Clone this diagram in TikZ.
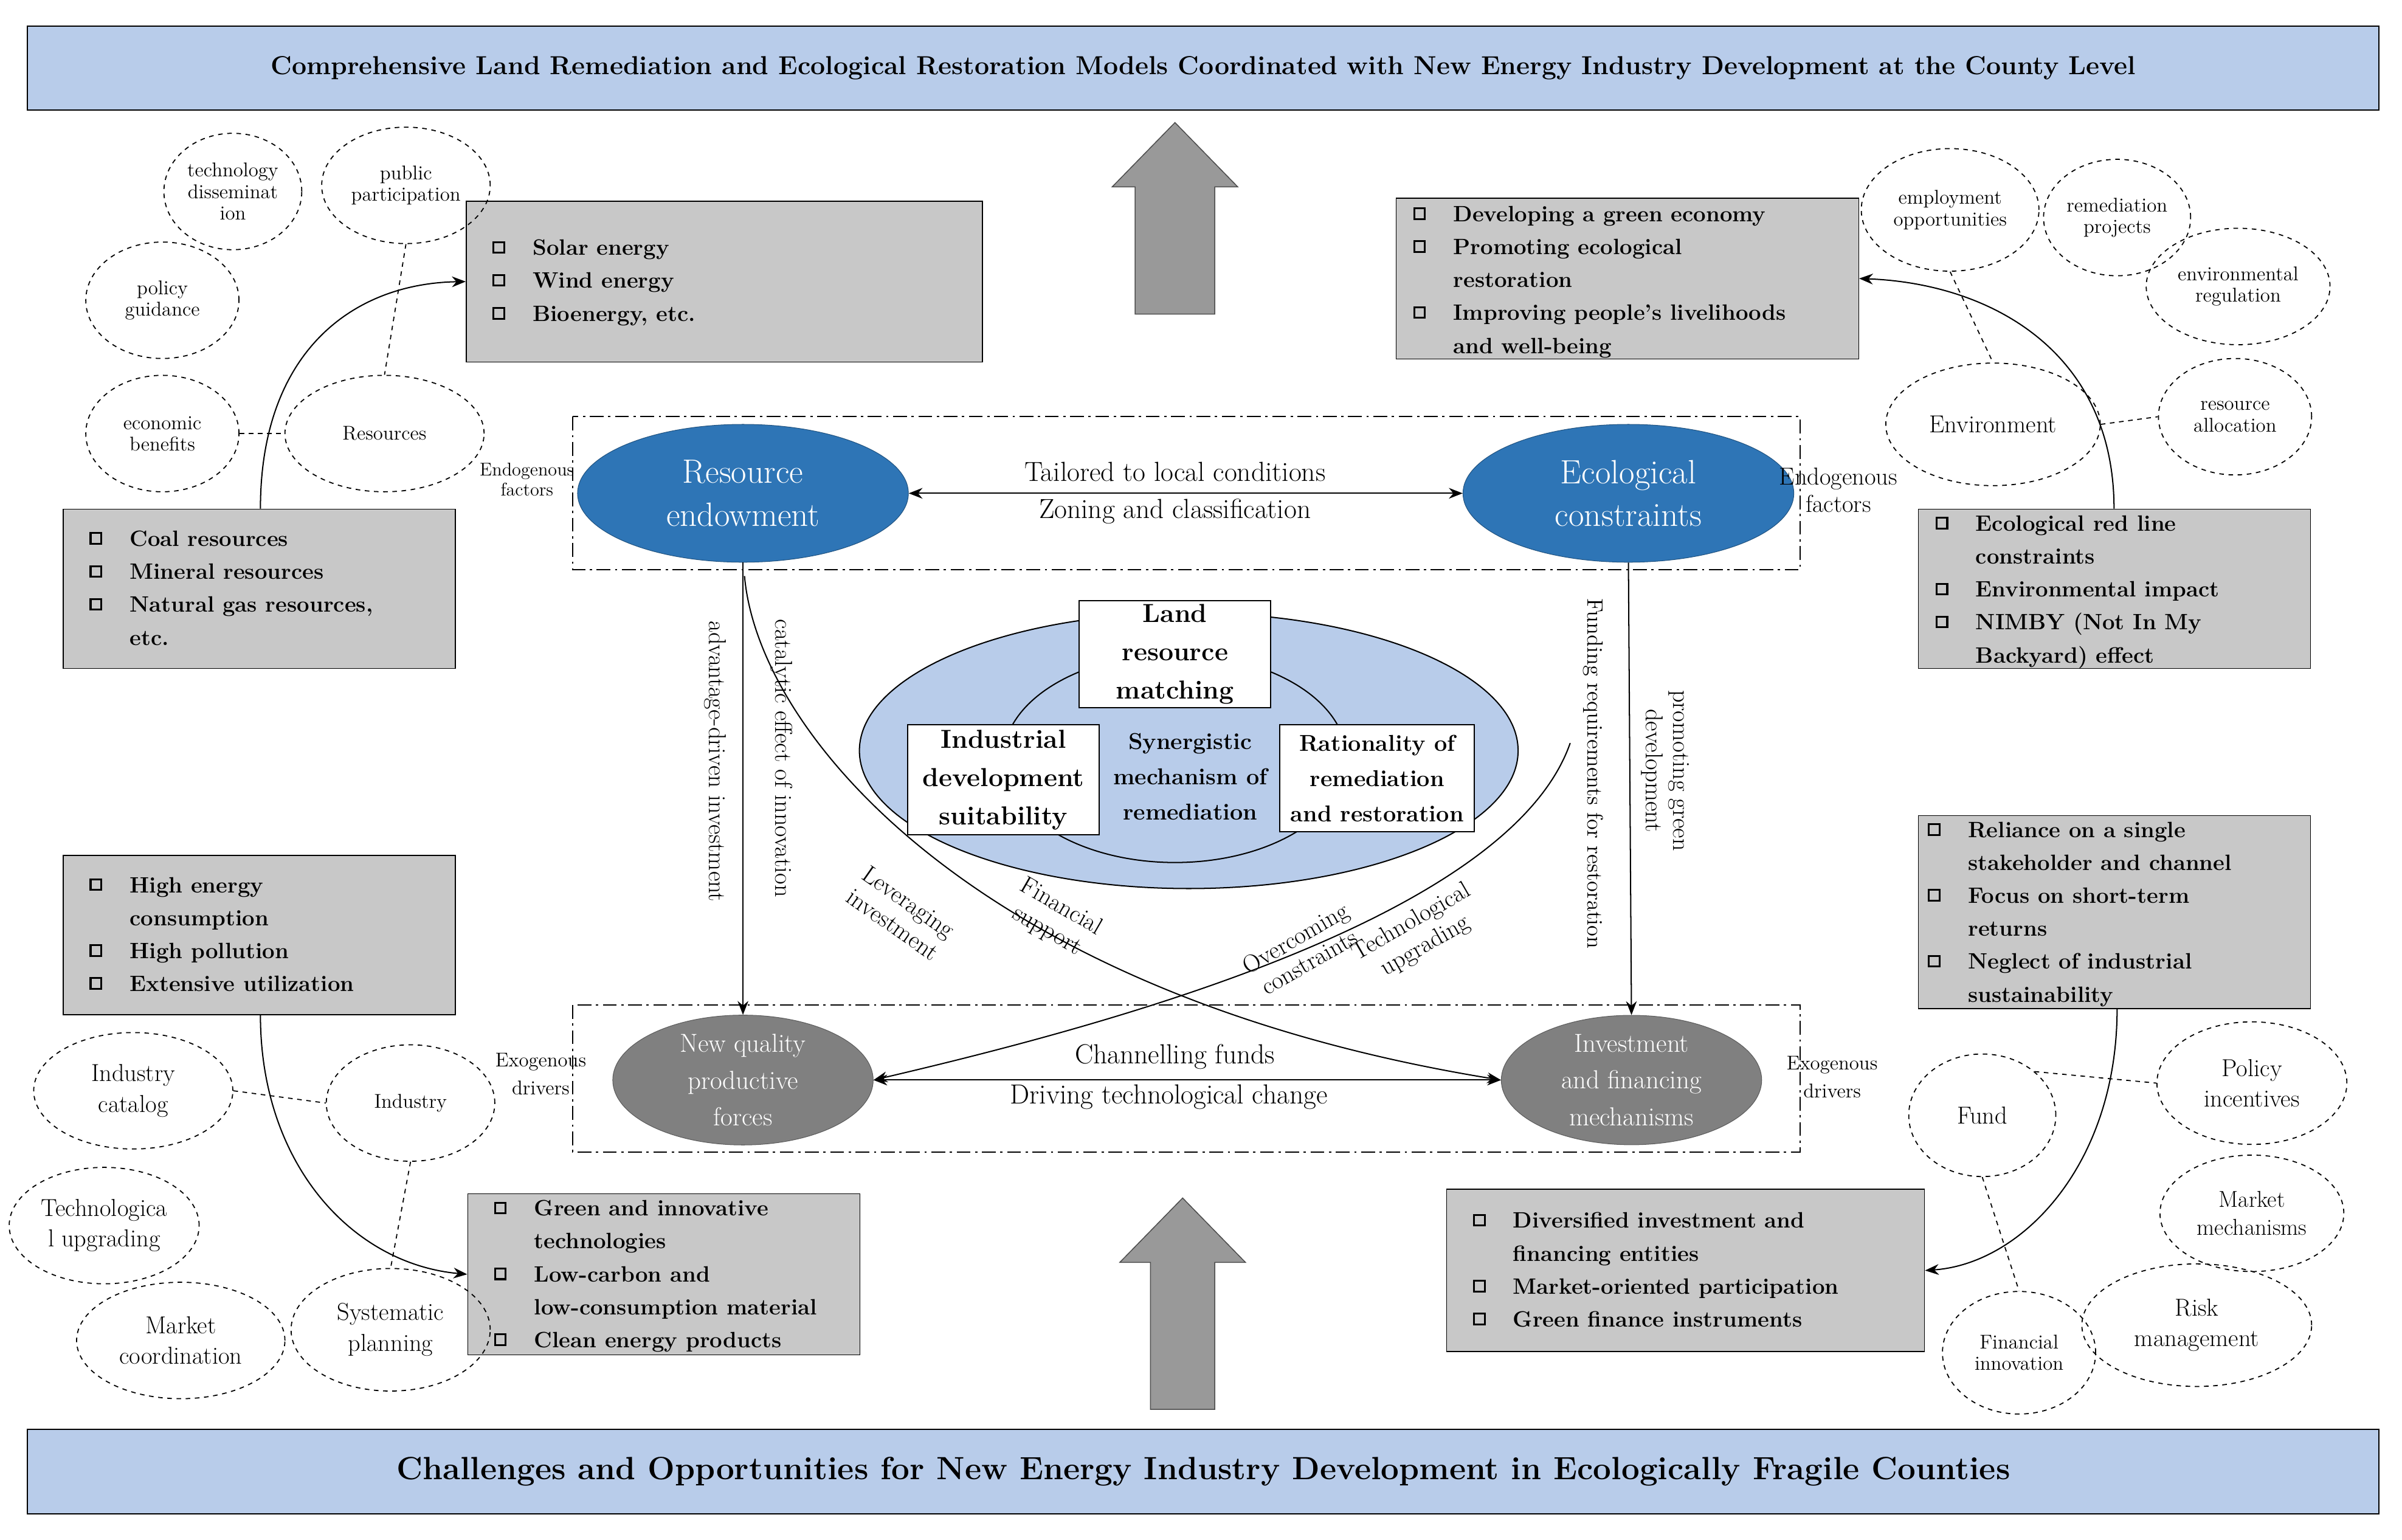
\documentclass[tikz,border=0pt]{standalone}
\usepackage{array}
\usetikzlibrary{calc,arrows.meta,shapes.geometric}
\definecolor{lb}{RGB}{184,204,234}
\definecolor{db}{RGB}{46,117,182}
\definecolor{gy}{RGB}{128,128,128}
\definecolor{bx}{RGB}{200,200,200}
\newcommand{\cbx}{\raisebox{1pt}{\tikz\draw[line width=1.2pt] (0,0) rectangle (7pt,7pt);}}
\tikzset{
 banner/.style={draw,fill=lb,line width=0.8pt,font=\bfseries},
 gbox/.style={draw,fill=bx,line width=0.6pt,anchor=north west,inner sep=0pt},
 dc/.style={draw,dashed,ellipse,line width=0.7pt,align=center,font=\fontsize{13}{14}\selectfont,inner sep=0pt},
 dl/.style={dashed,line width=0.7pt},
 big/.style={ellipse,align=center,text=white,font=\fontsize{22}{28}\selectfont,inner sep=0pt},
 arr/.style={-{Stealth[length=9pt,width=7pt]},line width=0.8pt},
 darr/.style={{Stealth[length=9pt,width=7pt]}-{Stealth[length=9pt,width=7pt]},line width=0.8pt},
 sm/.style={font=\fontsize{13}{15}\selectfont,align=center},
 mid/.style={font=\fontsize{18}{22}\selectfont,align=center},
 wb/.style={draw,fill=white,line width=0.8pt,align=center,font=\bfseries\fontsize{17}{25}\selectfont,inner sep=2pt},
 rl/.style={font=\fontsize{16}{18}\selectfont,align=center},
 ddf/.style={dash pattern=on 9pt off 3pt on 1.5pt off 3pt,line width=0.8pt},
 bigarrow/.style={fill=gy!80,draw=gy!60!black,line width=0.6pt}
}
\newcommand{\items}[2]{\fontsize{14.5}{21.5}\selectfont\bfseries\begin{tabular}{@{\hspace{14pt}}l@{\hspace{18pt}}>{\raggedright\arraybackslash}p{#1}@{}}#2\end{tabular}}
\begin{document}
\begin{tikzpicture}[x=1pt,y=-1pt]
\useasboundingbox (0,0) rectangle (1568,1005);
% banners
\node[banner,minimum width=1535,minimum height=55,font=\bfseries\fontsize{17}{20}\selectfont] (top) at (785.5,44.5) {Comprehensive Land Remediation and Ecological Restoration Models Coordinated with New Energy Industry Development at the County Level};
\node[banner,minimum width=1535,minimum height=55,font=\bfseries\fontsize{21}{24}\selectfont] (bot) at (785.5,960.5) {Challenges and Opportunities for New Energy Industry Development in Ecologically Fragile Counties};
% big arrows
\draw[bigarrow] (741,205) -- (741,122) -- (726,122) -- (767,80) -- (808,122) -- (793,122) -- (793,205) -- cycle;
\draw[bigarrow] (751,920) -- (751,824) -- (731,824) -- (772,782) -- (813,824) -- (793,824) -- (793,920) -- cycle;
% dash-dot frames
\draw[ddf] (374,272) rectangle (1175,372);
\draw[ddf] (374,656) rectangle (1175,752);
% central ellipse
\node[draw,ellipse,fill=lb,line width=0.8pt,minimum width=430,minimum height=180] (ce) at (776,490) {};
\node[draw,ellipse,fill=lb,line width=0.8pt,minimum width=224,minimum height=136] (ie) at (767,495) {};
\node[wb,minimum width=125,minimum height=70] (land) at (767,427) {Land\\resource\\matching};
\node[wb,minimum width=125,minimum height=72] (ind) at (655,509) {Industrial\\development\\suitability};
\node[wb,minimum width=127,minimum height=70,font=\bfseries\fontsize{15}{23}\selectfont] (rat) at (899,508) {Rationality of\\remediation\\and restoration};
\node[font=\bfseries\fontsize{15}{23}\selectfont,align=center] (syn) at (777,507) {Synergistic\\mechanism of\\remediation};
% main ellipses
\node[big,fill=db,draw=db!70!black,minimum width=216,minimum height=90] (re) at (485,322) {Resource\\endowment};
\node[big,fill=db,draw=db!70!black,minimum width=216,minimum height=90] (ec) at (1063,322) {Ecological\\constraints};
\node[big,fill=gy,draw=gy!70!black,minimum width=170,minimum height=76,font=\fontsize{17}{24}\selectfont] (nq) at (485,705) {New quality\\productive\\forces};
\node[big,fill=gy,draw=gy!70!black,minimum width=170,minimum height=76,font=\fontsize{17}{24}\selectfont] (inv) at (1065,705) {Investment\\and financing\\mechanisms};
% horizontal arrows
\draw[darr] (re.east) -- (ec.west);
\node[mid] (t1) at (767,308) {Tailored to local conditions};
\node[mid] (t2) at (767,334) {Zoning and classification};
\draw[darr] (nq.east) -- (inv.west);
\node[mid] (t3) at (767,690) {Channelling funds};
\node[mid] (t4) at (763,716) {Driving technological change};
% vertical arrows
\draw[arr] (re.south) -- (nq.north);
\draw[arr] (ec.south) -- (inv.north);
\node[rl,rotate=-90] (l1) at (467,497) {advantage-driven investment};
\node[rl,rotate=-90] (l2) at (510,495) {catalytic effect of innovation};
\node[rl,rotate=-90,font=\fontsize{14.5}{17}\selectfont] (l3) at (1040,505) {Funding requirements for restoration};
\node[rl,rotate=-90] (l4) at (1087,503) {promoting green\\development};
% crossing curves
\coordinate (c1) at (486,376);
\coordinate (c2) at (1025,485);
\draw[arr] (c1) .. controls (495,480) and (640,650) .. (inv.west);
\draw[arr] (c2) .. controls (985,600) and (720,670) .. (nq.east);
\node[rl,rotate=-35] (l5) at (588,596) {Leveraging\\investment};
\node[rl,rotate=-30] (l6) at (688,600) {Financial\\support};
\node[rl,rotate=30] (l7) at (850,620) {Overcoming\\constraints};
\node[rl,rotate=30] (l8) at (926,610) {Technological\\upgrading};
% endo/exo labels
\node[sm,font=\fontsize{12}{13}\selectfont] (e1) at (344,313) {Endogenous\\factors};
\node[sm,font=\fontsize{16}{18}\selectfont] (e2) at (1200,320) {Endogenous\\factors};
\node[sm,font=\fontsize{13}{18}\selectfont] (x1) at (353,701) {Exogenous\\drivers};
\node[sm,font=\fontsize{13}{18}\selectfont] (x2) at (1196,703) {Exogenous\\drivers};
% gray boxes
\node[gbox,minimum width=337,minimum height=105] (b1) at (304,131) {};
\node[anchor=north west] at (304,148) {\items{250pt}{\cbx & Solar energy\\ \cbx & Wind energy\\ \cbx & Bioenergy, etc.}};
\node[gbox,minimum width=256,minimum height=104] (b2) at (41,332) {};
\node[anchor=north west] at (41,338) {\items{180pt}{\cbx & Coal resources\\ \cbx & Mineral resources\\ \cbx & Natural gas resources, etc.}};
\node[gbox,minimum width=302,minimum height=105] (b3) at (911,129) {};
\node[anchor=north west] at (905,126) {\items{225pt}{\cbx & Developing a green economy\\ \cbx & Promoting ecological restoration\\ \cbx & Improving people's livelihoods and well-being}};
\node[gbox,minimum width=256,minimum height=104] (b4) at (1252,332) {};
\node[anchor=north west] at (1246,328) {\items{185pt}{\cbx & Ecological red line constraints\\ \cbx & Environmental impact\\ \cbx & NIMBY (Not In My Backyard) effect}};
\node[gbox,minimum width=256,minimum height=104] (b5) at (41,558) {};
\node[anchor=north west] at (41,564) {\items{150pt}{\cbx & High energy consumption\\ \cbx & High pollution\\ \cbx & Extensive utilization}};
\node[gbox,minimum width=256,minimum height=126] (b6) at (1252,532) {};
\node[anchor=north west] at (1241,528) {\items{195pt}{\cbx & Reliance on a single stakeholder and channel\\ \cbx & Focus on short-term returns\\ \cbx & Neglect of industrial sustainability}};
\node[gbox,minimum width=256,minimum height=105] (b7) at (305,779) {};
\node[anchor=north west] at (305,775) {\items{185pt}{\cbx & Green and innovative technologies\\ \cbx & Low-carbon and low-consumption material\\ \cbx & Clean energy products}};
\node[gbox,minimum width=312,minimum height=106] (b8) at (944,776) {};
\node[anchor=north west] at (944,783) {\items{230pt}{\cbx & Diversified investment and financing entities\\ \cbx & Market-oriented participation\\ \cbx & Green finance instruments}};
% dashed circles top-left
\node[dc,minimum width=90,minimum height=76] (td) at (152,125) {technology\\disseminat\\ion};
\node[dc,minimum width=110,minimum height=76] (pp) at (265,121) {public\\participation};
\node[dc,minimum width=100,minimum height=76] (pg) at (106,196) {policy\\guidance};
\node[dc,minimum width=100,minimum height=76] (eb) at (106,283) {economic\\benefits};
\node[dc,minimum width=130,minimum height=76] (rs) at (251,283) {Resources};
\draw[dl] (pp.south) -- (rs.north);
\draw[dl] (eb.east) -- (rs.west);
\draw[arr] ($(b2.north west)+(129,0)$) .. controls (170,230) and (230,185) .. (b1.west);
% top-right
\node[dc,minimum width=116,minimum height=80] (eo) at (1273,137) {employment\\opportunities};
\node[dc,minimum width=96,minimum height=76] (rp) at (1382,142) {remediation\\projects};
\node[dc,minimum width=120,minimum height=76] (er) at (1461,187) {environmental\\regulation};
\node[dc,minimum width=140,minimum height=80,font=\fontsize{16}{18}\selectfont] (env) at (1301,277) {Environment};
\node[dc,minimum width=100,minimum height=76] (ra) at (1459,272) {resource\\allocation};
\draw[dl] (eo.south) -- (env.north);
\draw[dl] (env.east) -- (ra.west);
\draw[arr] ($(b4.north west)+(128,0)$) .. controls (1380,230) and (1300,185) .. (b3.east);
% bottom-left
\node[dc,minimum width=130,minimum height=76,font=\fontsize{16}{20}\selectfont] (ic) at (87,712) {Industry\\catalog};
\node[dc,minimum width=110,minimum height=76] (in) at (268,720) {Industry};
\node[dc,minimum width=124,minimum height=76,font=\fontsize{16}{20}\selectfont] (tu) at (68,800) {Technologica\\l upgrading};
\node[dc,minimum width=136,minimum height=76,font=\fontsize{16}{20}\selectfont] (mc) at (118,875) {Market\\coordination};
\node[dc,minimum width=130,minimum height=80,font=\fontsize{16}{20}\selectfont] (sp) at (255,868) {Systematic\\planning};
\draw[dl] (ic.east) -- (in.west);
\draw[dl] (in.south) -- (sp.north);
\draw[arr] ($(b5.south west)+(129,0)$) .. controls (170,760) and (230,825) .. (b7.west);
% bottom-right
\node[dc,minimum width=96,minimum height=80,font=\fontsize{16}{18}\selectfont] (fd) at (1294,728) {Fund};
\node[dc,minimum width=124,minimum height=80,font=\fontsize{16}{20}\selectfont] (pi) at (1470,707) {Policy\\incentives};
\node[dc,minimum width=120,minimum height=76,font=\fontsize{15}{18}\selectfont] (mm) at (1470,792) {Market\\mechanisms};
\node[dc,minimum width=100,minimum height=80] (fi) at (1318,883) {Financial\\innovation};
\node[dc,minimum width=150,minimum height=80,font=\fontsize{16}{20}\selectfont] (rm) at (1434,865) {Risk\\management};
\draw[dl] (fd.north east) -- (pi.west);
\draw[dl] (fd.south) -- (fi.north);
\draw[arr] ($(b6.south west)+(130,0)$) .. controls (1382,760) and (1320,825) .. (b8.east);
\end{tikzpicture}
\end{document}
